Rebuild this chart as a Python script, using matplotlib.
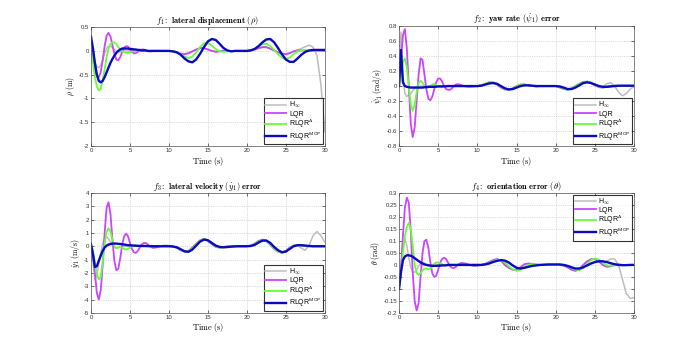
import numpy as np
import matplotlib
matplotlib.use("Agg")
import matplotlib.pyplot as plt

plt.rcParams['mathtext.fontset'] = 'cm'
plt.rcParams['font.family'] = ['Liberation Sans', 'DejaVu Sans']

# time grid (s)
t_early = np.arange(0, 8.001, 0.25)
t_late = np.arange(8.5, 30.001, 0.5)
T = np.concatenate([t_early, t_late])

labels = [r"H$_\infty$", "LQR", r"RLQR$^{\mathsf{A}}$", r"RLQR$^{\mathsf{MOP}}$"]
colors = ["#bdbdbd", "#cc44ff", "#66ff33", "#0a0ac0"]
widths = [1.1, 1.3, 1.3, 1.7]

# ---------------- f1: lateral displacement rho (m) ----------------
rho_hinf = [0.0, -0.12, -0.25, -0.33, -0.35, -0.3, -0.18, -0.05, 0.05, 0.1, 0.1, 0.07, 0.03, 0.0, -0.02, -0.02, -0.01,
            0, 0, 0, 0, 0, 0, 0, 0, 0, 0, 0, 0, 0, 0, 0, 0,
            0, 0, 0, 0, -0.01, -0.03, -0.05, -0.06, -0.04, -0.01, 0.02, 0.05, 0.05, 0.03, 0.0, -0.01, 0, 0, 0, 0,
            0, 0, 0, 0, 0.01, 0.03, 0.05, 0.07, 0.07, 0.04, 0.01, -0.03, -0.05, -0.06, -0.04, -0.01, 0.02, 0.05, 0.09, 0.12,
            0.08, -0.1, -0.7, -1.7]
rho_lqr = [0.0, -0.2, -0.4, -0.52, -0.55, -0.45, -0.2, 0.1, 0.32, 0.38, 0.3, 0.12, -0.06, -0.18, -0.2, -0.13, -0.02,
           0.07, 0.1, 0.09, 0.04, -0.02, -0.05, -0.05, -0.02, 0.01, 0.03, 0.03, 0.02, 0.0, -0.01, -0.01, 0.0,
           0, 0, 0, 0, -0.01, -0.03, -0.06, -0.07, -0.05, -0.01, 0.03, 0.06, 0.06, 0.03, 0.0, -0.02, -0.01, 0, 0, 0,
           0, 0, 0, 0, 0.01, 0.03, 0.06, 0.08, 0.08, 0.05, 0.01, -0.03, -0.06, -0.07, -0.05, -0.01, 0.01, 0.01, 0.01, 0,
           0, 0.01, 0.01, 0.01]
rho_rlqra = [0.0, -0.25, -0.55, -0.75, -0.83, -0.8, -0.62, -0.38, -0.13, 0.05, 0.15, 0.18, 0.18, 0.14, 0.08, 0.03, -0.01,
             -0.03, -0.04, -0.04, -0.03, -0.02, -0.01, 0.0, 0.01, 0.01, 0.01, 0, 0, 0, 0, 0, 0,
             0, 0, 0, 0, 0, -0.02, -0.07, -0.12, -0.15, -0.12, -0.03, 0.08, 0.16, 0.17, 0.11, 0.04, -0.01, -0.02, -0.01, 0,
             0, 0, 0, 0, 0.01, 0.04, 0.1, 0.14, 0.15, 0.1, 0.02, -0.07, -0.14, -0.17, -0.14, -0.07, -0.01, 0.01, 0.01, 0,
             0, 0, 0, 0]
rho_mop = [0.3, 0.05, -0.25, -0.5, -0.63, -0.66, -0.63, -0.55, -0.45, -0.35, -0.25, -0.17, -0.1, -0.04, 0.0, 0.03, 0.05,
           0.05, 0.05, 0.05, 0.04, 0.04, 0.03, 0.03, 0.02, 0.02, 0.01, 0.01, 0.01, 0, 0, 0, 0,
           0, 0, 0, 0, -0.01, -0.03, -0.08, -0.16, -0.22, -0.24, -0.18, -0.06, 0.08, 0.2, 0.25, 0.23, 0.15, 0.06, 0.01, -0.01,
           0, 0, 0, 0, 0.01, 0.04, 0.1, 0.18, 0.24, 0.25, 0.18, 0.06, -0.07, -0.18, -0.23, -0.23, -0.16, -0.08, -0.02, 0.01,
           0.02, 0.02, 0.02, 0.02]

# ---------------- f2: yaw rate error (rad/s) ----------------
psi_hinf = [0.0, 0.72, 0.15, -0.1, -0.14, -0.12, -0.1, -0.06, -0.03, -0.01, 0, 0, 0, 0, 0, 0, 0,
            0, 0, 0, 0, 0, 0, 0, 0, 0, 0, 0, 0, 0, 0, 0, 0,
            0, 0, 0, 0, 0.01, 0.03, 0.05, 0.05, 0.03, -0.01, -0.04, -0.05, -0.035, -0.005, 0.02, 0.02, 0.01, 0, 0, 0,
            0, 0, 0, 0, -0.01, -0.035, -0.05, -0.035, 0.0, 0.03, 0.05, 0.06, 0.045, 0.015, -0.01, -0.01, 0.03, 0.045, 0.0, -0.08,
            -0.13, -0.1, -0.04, -0.005]
psi_lqr = [0.0, 0.35, 0.68, 0.76, 0.5, 0.0, -0.5, -0.68, -0.55, -0.2, 0.15, 0.37, 0.35, 0.15, -0.05, -0.17, -0.19,
           -0.14, -0.04, 0.05, 0.1, 0.1, 0.06, 0.0, -0.04, -0.05, -0.05, -0.03, 0.0, 0.02, 0.025, 0.02, 0.01,
           -0.005, -0.01, -0.005, 0, 0.01, 0.03, 0.05, 0.045, 0.02, -0.02, -0.045, -0.05, -0.03, 0.0, 0.02, 0.02, 0.01, 0, -0.005, 0,
           0, 0, 0, 0, -0.02, -0.04, -0.045, -0.03, 0.0, 0.03, 0.055, 0.06, 0.04, 0.01, -0.015, -0.02, -0.01, 0.0, 0.005, 0,
           0, 0, 0, 0]
psi_rlqra = [0.0, 0.15, 0.32, 0.37, 0.25, 0.0, -0.25, -0.33, -0.25, -0.08, 0.04, 0.07, 0.05, 0.0, -0.02, -0.02, 0.0,
             0.02, 0.03, 0.01, 0.0, -0.005, -0.01, 0, 0, 0, 0, 0, 0, 0, 0, 0, 0,
             0, 0, 0, 0, 0.01, 0.03, 0.05, 0.05, 0.03, -0.01, -0.04, -0.05, -0.035, -0.005, 0.02, 0.02, 0.01, 0, 0, 0,
             0, 0, 0, 0, -0.01, -0.035, -0.05, -0.035, 0.0, 0.03, 0.05, 0.06, 0.045, 0.015, -0.01, -0.02, -0.01, 0.0, 0.005, 0,
             0, 0, 0, 0]
psi_mop = [0.0, 0.48, 0.05, 0.0, -0.01, -0.015, -0.02, -0.02, -0.02, -0.02, -0.02, -0.02, -0.02, -0.015, -0.015, -0.01, -0.01,
           -0.01, -0.01, -0.008, -0.005, -0.005, -0.005, -0.003, -0.003, 0, 0, 0, 0, 0, 0, 0, 0,
           0, 0, 0, 0, 0.005, 0.02, 0.035, 0.04, 0.03, 0.0, -0.03, -0.045, -0.04, -0.02, 0.0, 0.01, 0.01, 0.005, 0, 0,
           0, 0, 0, 0, -0.005, -0.02, -0.04, -0.04, -0.02, 0.01, 0.04, 0.05, 0.04, 0.02, 0.0, -0.01, -0.01, -0.005, 0, 0.005,
           0.005, 0.005, 0.005, 0.005]

# ---------------- f3: lateral velocity error (m/s) ----------------
vy_hinf = [0.0, -1.2, -2.5, -2.2, -1.3, -0.5, 0.2, 0.6, 0.7, 0.55, 0.3, 0.05, -0.1, -0.12, -0.1, -0.05, 0.0,
           0, 0, 0, 0, 0, 0, 0, 0, 0, 0, 0, 0, 0, 0, 0, 0,
           0, 0, 0, 0, -0.02, -0.1, -0.28, -0.42, -0.38, -0.15, 0.15, 0.42, 0.55, 0.45, 0.2, -0.02, -0.1, -0.08, -0.03, 0,
           0, 0, 0, 0, 0.03, 0.15, 0.35, 0.45, 0.4, 0.15, -0.15, -0.4, -0.5, -0.4, -0.15, 0.05, 0.05, -0.15, -0.3, 0.1,
           0.8, 1.1, 0.8, 0.3]
vy_lqr = [0.1, -0.5, -2.0, -3.5, -4.0, -3.3, -1.4, 1.0, 2.9, 3.3, 2.4, 0.5, -1.1, -1.8, -1.7, -0.9, 0.1,
          0.75, 0.95, 0.75, 0.25, -0.2, -0.45, -0.5, -0.35, -0.1, 0.12, 0.23, 0.25, 0.15, 0.02, -0.08, -0.12,
          -0.08, 0.02, 0.05, 0.03, 0.0, -0.1, -0.3, -0.4, -0.35, -0.1, 0.2, 0.45, 0.55, 0.4, 0.15, -0.05, -0.1, -0.05, 0.0, 0,
          0, 0, 0, 0, 0.05, 0.2, 0.4, 0.5, 0.4, 0.1, -0.2, -0.4, -0.45, -0.35, -0.1, 0.05, 0.1, 0.05, 0.0, 0,
          0, 0, 0, 0]
vy_rlqra = [0.1, -0.3, -1.2, -2.1, -2.5, -2.3, -1.2, 0.2, 1.1, 1.35, 1.1, 0.5, 0.0, -0.15, -0.1, -0.05, -0.1,
            -0.2, -0.25, -0.2, -0.1, 0.0, 0.05, 0.05, 0.03, 0, 0, 0, 0, 0, 0, 0, 0,
            0, 0, 0, 0, -0.02, -0.1, -0.28, -0.42, -0.38, -0.15, 0.15, 0.42, 0.55, 0.45, 0.2, -0.02, -0.1, -0.08, -0.03, 0,
            0, 0, 0, 0, 0.03, 0.15, 0.35, 0.45, 0.4, 0.15, -0.15, -0.4, -0.5, -0.4, -0.15, 0.05, 0.1, 0.07, 0.02, 0,
            0, 0, 0, 0]
vy_mop = [0.15, -0.6, -1.55, -1.5, -1.1, -0.7, -0.35, -0.1, 0.05, 0.12, 0.17, 0.2, 0.2, 0.2, 0.18, 0.17, 0.15,
          0.13, 0.1, 0.08, 0.07, 0.06, 0.05, 0.04, 0.03, 0.03, 0.02, 0.02, 0.02, 0.01, 0.01, 0.01, 0.0,
          0, 0, 0, 0, -0.02, -0.08, -0.22, -0.38, -0.42, -0.25, 0.05, 0.35, 0.5, 0.45, 0.25, 0.05, -0.05, -0.08, -0.06, -0.03,
          -0.01, 0, 0, 0, 0.02, 0.1, 0.28, 0.42, 0.43, 0.25, -0.05, -0.3, -0.45, -0.4, -0.2, 0.0, 0.08, 0.08, 0.05, 0.02,
          0, 0, 0, 0]

# ---------------- f4: orientation error (rad) ----------------
th_hinf = [-0.1, 0.0, 0.09, 0.11, 0.08, 0.03, -0.01, -0.03, -0.03, -0.02, -0.005, 0.005, 0.01, 0.008, 0.003, 0, 0,
           0, 0, 0, 0, 0, 0, 0, 0, 0, 0, 0, 0, 0, 0, 0, 0,
           0.004, 0.0, -0.003, -0.003, 0.0, 0.005, 0.012, 0.02, 0.024, 0.018, 0.0, -0.012, -0.02, -0.02, -0.01, 0.003, 0.005, 0.003, 0.001, 0,
           0, 0, 0, 0, 0.0, -0.003, -0.01, -0.02, -0.024, -0.018, 0.0, 0.015, 0.023, 0.024, 0.015, 0.0, 0.015, 0.025, 0.025, 0.0,
           -0.06, -0.12, -0.14, -0.135]
th_lqr = [-0.1, -0.02, 0.12, 0.24, 0.28, 0.26, 0.14, -0.03, -0.15, -0.19, -0.16, -0.05, 0.05, 0.1, 0.105, 0.07, 0.01,
          -0.035, -0.05, -0.045, -0.02, 0.01, 0.025, 0.03, 0.025, 0.01, -0.005, -0.012, -0.013, -0.008, 0.0, 0.006, 0.008,
          0.006, 0.0, -0.004, -0.003, 0.0, 0.005, 0.012, 0.02, 0.025, 0.018, 0.0, -0.012, -0.02, -0.02, -0.01, 0.003, 0.006, 0.004, 0.002, 0,
          0, 0, 0, 0, 0.0, -0.003, -0.01, -0.02, -0.025, -0.018, 0.0, 0.015, 0.024, 0.025, 0.015, 0.0, -0.008, -0.006, 0.0, 0.002,
          0, 0, 0, 0]
th_rlqra = [-0.1, -0.04, 0.05, 0.12, 0.16, 0.175, 0.15, 0.08, 0.0, -0.035, -0.042, -0.035, -0.022, -0.015, -0.015, -0.018, -0.015,
            -0.005, 0.005, 0.01, 0.01, 0.007, 0.003, 0, 0, 0, 0, 0, 0, 0, 0, 0, 0,
            0, 0, 0, 0, 0, 0.003, 0.008, 0.015, 0.022, 0.02, 0.01, -0.005, -0.018, -0.025, -0.02, -0.008, 0.0, 0.003, 0.002, 0,
            0, 0, 0, 0, 0, 0.0, -0.005, -0.013, -0.02, -0.022, -0.012, 0.005, 0.02, 0.027, 0.022, 0.008, -0.002, -0.004, -0.002, 0,
            0, 0, 0, 0]
th_mop = [-0.1, -0.03, 0.02, 0.035, 0.04, 0.04, 0.038, 0.034, 0.028, 0.022, 0.016, 0.011, 0.006, 0.002, 0.0, -0.002, -0.003,
          -0.004, -0.004, -0.004, -0.003, -0.003, -0.002, -0.002, -0.002, 0, 0, 0, 0, 0, 0, 0, 0,
          0, 0, 0, 0, 0, 0.002, 0.006, 0.012, 0.017, 0.02, 0.018, 0.01, -0.002, -0.012, -0.015, -0.012, -0.008, -0.004, -0.002, 0,
          0.001, 0.002, 0.002, 0.002, 0.002, 0.0, -0.004, -0.01, -0.015, -0.015, -0.01, -0.002, 0.006, 0.012, 0.015, 0.015, 0.012, 0.007, 0.003, 0.0,
          -0.001, -0.001, 0, 0]

panels = [
    dict(series=[rho_hinf, rho_lqr, rho_rlqra, rho_mop],
         title=r"$f_1\mathbf{:\ lateral\ displacement}\ (\rho)$",
         ylabel=r"$\rho\ \mathrm{(m)}$", ylim=(-2, 0.5), yticks=[-2, -1.5, -1, -0.5, 0, 0.5],
         yticklabels=["-2", "-1.5", "-1", "-0.5", "0", "0.5"], loc="lower right",
         rect=[0.130, 0.585, 0.334, 0.338]),
    dict(series=[psi_hinf, psi_lqr, psi_rlqra, psi_mop],
         title=r"$f_2\mathbf{:\ yaw\ rate}\ (\dot{\psi}_1)\ \mathbf{error}$",
         ylabel=r"$\dot{\psi}_1\ \mathrm{(rad/s)}$", ylim=(-0.8, 0.8),
         yticks=[-0.8, -0.6, -0.4, -0.2, 0, 0.2, 0.4, 0.6, 0.8],
         yticklabels=["-0.8", "-0.6", "-0.4", "-0.2", "0", "0.2", "0.4", "0.6", "0.8"], loc="lower right",
         rect=[0.570, 0.585, 0.336, 0.341]),
    dict(series=[vy_hinf, vy_lqr, vy_rlqra, vy_mop],
         title=r"$f_3\mathbf{:\ lateral\ velocity}\ (\dot{y}_1)\ \mathbf{error}$",
         ylabel=r"$\dot{y}_1\ \mathrm{(m/s)}$", ylim=(-5, 4), yticks=list(range(-5, 5)),
         yticklabels=[str(v) for v in range(-5, 5)], loc="lower right",
         rect=[0.130, 0.111, 0.334, 0.341]),
    dict(series=[th_hinf, th_lqr, th_rlqra, th_mop],
         title=r"$f_4\mathbf{:\ orientation\ error}\ (\theta)$",
         ylabel=r"$\theta\ \mathrm{(rad)}$", ylim=(-0.2, 0.3),
         yticks=[-0.2, -0.15, -0.1, -0.05, 0, 0.05, 0.1, 0.15, 0.2, 0.25, 0.3],
         yticklabels=["-0.2", "-0.15", "-0.1", "-0.05", "0", "0.05", "0.1", "0.15", "0.2", "0.25", "0.3"],
         loc="upper right", rect=[0.570, 0.111, 0.336, 0.341]),
]

xticks = [0, 5, 10, 15, 20, 25, 30]

fig = plt.figure(figsize=(7.0, 3.52), dpi=100)
for p in panels:
    ax = fig.add_axes(p["rect"])
    for s, c, w, lab in zip(p["series"], colors, widths, labels):
        ax.plot(T, s, color=c, lw=w, label=lab, solid_joinstyle='round')
    ax.set_xlim(0, 30)
    ax.set_ylim(*p["ylim"])
    ax.set_xticks(xticks)
    ax.set_xticklabels([str(v) for v in xticks])
    ax.set_yticks(p["yticks"])
    ax.set_yticklabels(p["yticklabels"])
    ax.tick_params(direction='in', length=2, width=0.5, labelsize=4.3, pad=1.5,
                   top=True, right=True, colors='#333333')
    ax.grid(True, linestyle=':', color='#bbbbbb', lw=0.5)
    for sp in ax.spines.values():
        sp.set_linewidth(0.5)
        sp.set_color('#555555')
    ax.set_title(p["title"], fontsize=6.0, pad=3)
    ax.set_xlabel(r"$\mathrm{Time\ (s)}$", fontsize=6.0, labelpad=1)
    ax.set_ylabel(p["ylabel"], fontsize=5.5, labelpad=1)
    leg = ax.legend(loc=p["loc"], fontsize=5.0, frameon=True, fancybox=False,
                    edgecolor='black', borderaxespad=0.25, handlelength=3.0,
                    labelspacing=0.05, borderpad=0.25, handletextpad=0.4)
    leg.get_frame().set_linewidth(0.8)

fig.savefig("out.png", dpi=100)
